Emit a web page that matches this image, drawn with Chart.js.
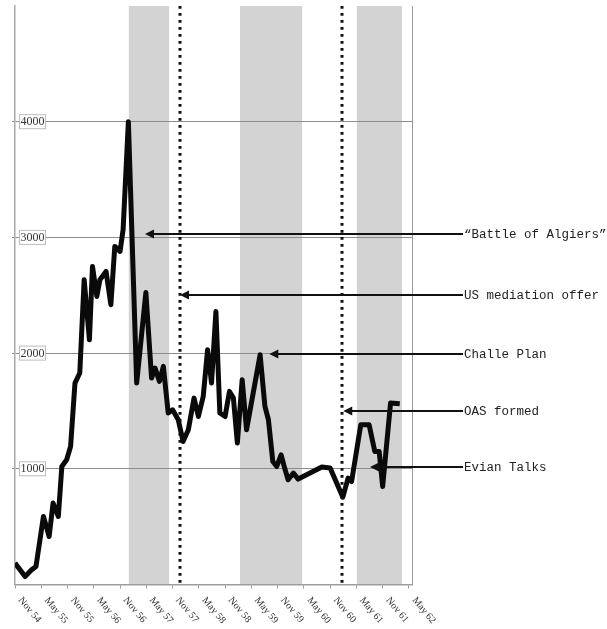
<!DOCTYPE html>
<html>
<head>
<meta charset="utf-8">
<script src="https://cdn.jsdelivr.net/npm/chart.js@4.4.0/dist/chart.umd.min.js"></script>
<style>
    html, body { margin: 0; padding: 0; background: #fff; }
    #wrap { width: 607px; height: 629px; }
</style>
</head>
<body>
<div id="wrap"><canvas id="chart"></canvas></div>
<script>
// months counted from Nov 1954
var months = [0, 2.3, 3.8, 4.8, 6.5, 7.8, 8.7, 9.9, 10.7, 11.8, 12.7, 13.7, 14.8, 15.8, 17.0, 17.7, 18.7, 19.4, 20.8, 21.9,
    22.8, 24.0, 24.7, 25.9, 27.8, 29.9, 31.2, 32.0, 33.0, 33.9, 35.0, 36.0, 37.3, 38.4, 39.6, 40.9, 41.9, 43.0, 44.0, 44.9,
    45.9, 46.8, 48.0, 49.0, 49.9, 50.8, 51.9, 52.9, 56.0, 57.1, 57.9, 58.9, 59.8, 60.8, 61.5, 62.4, 63.6, 64.7, 67.4, 70.1,
    72.0, 74.9, 76.1, 76.9, 79.0, 80.9, 82.2, 83.2, 84.0, 85.8, 87.9];
var values = [185, 69, 127, 156, 588, 415, 704, 588, 1020, 1078, 1193, 1741, 1828, 2634, 2115, 2749, 2490, 2634, 2706, 2418,
    2922, 2879, 3067, 4000, 1741, 2524, 1784, 1871, 1755, 1885, 1482, 1510, 1424, 1236, 1337, 1611, 1452, 1625, 2029, 1741,
    2360, 1482, 1452, 1669, 1611, 1222, 1770, 1337, 1986, 1539, 1424, 1063, 1020, 1121, 1020, 905, 963, 911, 963, 1015,
    1007, 755, 920, 890, 1381, 1381, 1150, 1150, 847, 1568, 1562];

var tickLabels = ['Nov 54', 'May 55', 'Nov 55', 'May 56', 'Nov 56', 'May 57', 'Nov 57', 'May 58',
    'Nov 58', 'May 59', 'Nov 59', 'May 60', 'Nov 60', 'May 61', 'Nov 61', 'May 62'];
var yTicks = [1000, 2000, 3000, 4000];

// shaded periods (start / end month)
var bandStarts = [26, 51.4, 78.1];
var bandEnds = [35.2, 65.6, 88.4];

// dotted markers
var markerMonths = [37.7, 74.8];

// arrows
var annLabels = ['\u201cBattle of Algiers\u201d', 'US mediation offer', 'Challe Plan', 'OAS formed', 'Evian Talks'];
var annMonths = [29.7, 37.7, 58.1, 75.0, 81.1];
var annValues = [3030, 2500, 1994, 1496, 1012];

var extras = {
    id: 'extras',
    beforeDraw: function (chart) {
        var ctx = chart.ctx, a = chart.chartArea, x = chart.scales.x;
        ctx.save();
        ctx.fillStyle = '#d3d3d3';
        bandStarts.forEach(function (s, i) {
            var x0 = x.getPixelForValue(s), x1 = x.getPixelForValue(bandEnds[i]);
            ctx.fillRect(x0, a.top, x1 - x0, a.bottom - a.top);
        });
        ctx.restore();
    },
    beforeDatasetsDraw: function (chart) {
        var ctx = chart.ctx, a = chart.chartArea, x = chart.scales.x;
        ctx.save();
        ctx.strokeStyle = '#111';
        ctx.lineWidth = 3;
        ctx.setLineDash([2.8, 4.2]);
        markerMonths.forEach(function (m) {
            var px = Math.round(x.getPixelForValue(m));
            ctx.beginPath();
            ctx.moveTo(px, a.top);
            ctx.lineTo(px, a.bottom);
            ctx.stroke();
        });
        ctx.restore();
    },
    afterDraw: function (chart) {
        var ctx = chart.ctx, a = chart.chartArea, x = chart.scales.x, y = chart.scales.y;
        ctx.save();

        // y labels in small boxes
        ctx.font = '12px "Liberation Serif"';
        ctx.textBaseline = 'middle';
        ctx.textAlign = 'left';
        yTicks.forEach(function (v) {
            var py = y.getPixelForValue(v);
            var w = ctx.measureText(String(v)).width + 3;
            ctx.fillStyle = '#fff';
            ctx.fillRect(a.left + 4, py - 7.5, w, 15);
            ctx.strokeStyle = '#bdbdbd';
            ctx.lineWidth = 1;
            ctx.strokeRect(a.left + 4.5, py - 7, w - 1, 14);
            ctx.fillStyle = '#333';
            ctx.fillText(String(v), a.left + 5.5, py + 0.5);
        });

        // x labels, rotated down to the right
        ctx.font = '10px "Liberation Serif"';
        ctx.fillStyle = '#333';
        tickLabels.forEach(function (t, i) {
            var px = x.getPixelForValue(i * 6);
            ctx.save();
            ctx.translate(px + 5, a.bottom + 14);
            ctx.rotate(50 * Math.PI / 180);
            ctx.fillText(t, 0, 0);
            ctx.restore();
        });

        // arrows with labels
        var textX = a.right + 51;
        ctx.font = '12.5px "Liberation Mono"';
        annLabels.forEach(function (t, i) {
            var tx = x.getPixelForValue(annMonths[i]);
            var ty = Math.round(y.getPixelForValue(annValues[i]));
            ctx.strokeStyle = '#111';
            ctx.lineWidth = 2;
            ctx.beginPath();
            ctx.moveTo(tx + 6, ty);
            ctx.lineTo(textX, ty);
            ctx.stroke();
            ctx.fillStyle = '#111';
            ctx.beginPath();
            ctx.moveTo(tx, ty);
            ctx.lineTo(tx + 9, ty - 4.5);
            ctx.lineTo(tx + 9, ty + 4.5);
            ctx.closePath();
            ctx.fill();
            ctx.fillStyle = '#222';
            ctx.fillText(t, textX + 1, ty + 0.5);
        });
        ctx.restore();
    }
};

var ctx = document.getElementById('chart').getContext('2d');
var myChart = new Chart(ctx, {
    type: 'line',
    data: {
        datasets: [{
            data: months.map(function (m, i) { return { x: m, y: values[i] }; }),
            borderColor: '#0a0a0a',
            borderWidth: 5,
            borderJoinStyle: 'round',
            pointRadius: 0,
            tension: 0,
            fill: false
        }]
    },
    options: {
        responsive: true,
        maintainAspectRatio: false,
        animation: false,
        layout: { padding: { left: 12, right: 195, top: 6, bottom: 40.5 } },
        plugins: {
            legend: { display: false },
            tooltip: { enabled: false }
        },
        scales: {
            x: {
                type: 'linear',
                min: 0,
                max: 90.7,
                afterBuildTicks: function (s) {
                    s.ticks = tickLabels.map(function (t, i) { return { value: i * 6 }; });
                },
                ticks: { display: false },
                grid: { drawOnChartArea: false, drawTicks: true, tickLength: 4, color: '#999' },
                border: { color: '#9d9d9d', width: 1.5 }
            },
            y: {
                min: 0,
                max: 5000,
                afterBuildTicks: function (s) {
                    s.ticks = yTicks.map(function (v) { return { value: v }; });
                },
                ticks: { display: false },
                grid: { color: '#8c8c8c', lineWidth: 1, tickLength: 3 },
                border: { color: '#a8a8a8', width: 1.5 }
            },
            y2: {
                position: 'right',
                min: 0,
                max: 5000,
                ticks: { display: false },
                grid: { drawOnChartArea: false, drawTicks: false },
                border: { color: '#999', width: 1 }
            }
        }
    },
    plugins: [extras]
});
</script>
</body>
</html>
